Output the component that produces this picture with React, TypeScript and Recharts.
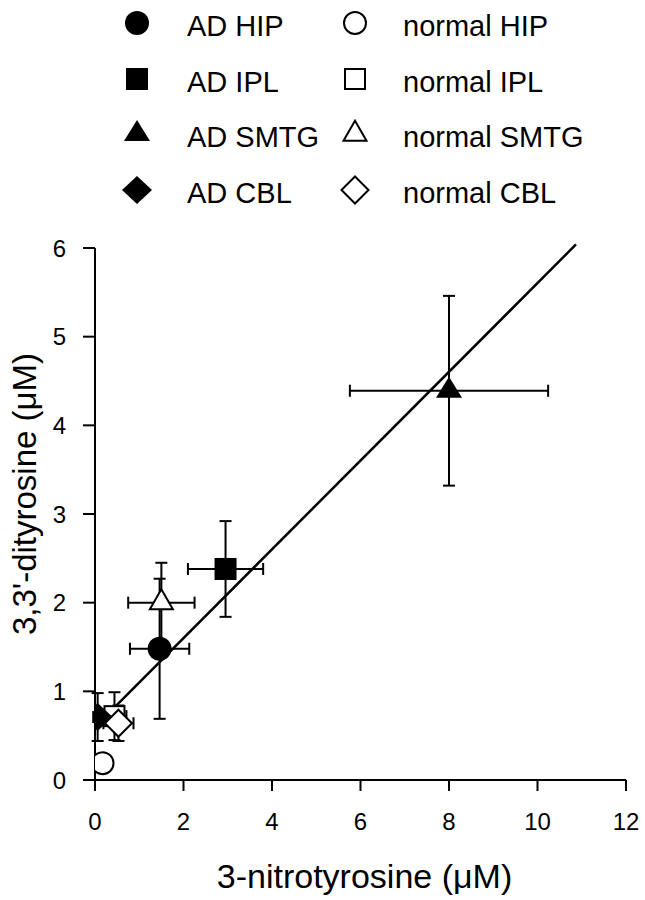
import React from "react";
import { ScatterChart, Scatter, XAxis, YAxis, ErrorBar, ReferenceLine, Label } from "recharts";

const FONT = "'Liberation Sans', Arial, Helvetica, sans-serif";

// one point per brain region (mean ± error)
const GROUPS = ["AD HIP", "AD IPL", "AD SMTG", "AD CBL", "normal HIP", "normal IPL", "normal SMTG", "normal CBL"];
const MARKERS = ["circle", "square", "triangle", "diamond", "circle", "square", "triangle", "diamond"];
const NITRO = [1.46, 2.95, 8.0, 0.06, 0.17, 0.44, 1.5, 0.53];
const NITRO_ERR = [0.67, 0.85, 2.24, 0.1, 0, 0.27, 0.75, 0.34];
const DITYR = [1.48, 2.38, 4.39, 0.71, 0.19, 0.72, 2.0, 0.64];
const DITYR_ERR = [0.79, 0.54, 1.07, 0.27, 0, 0.27, 0.45, 0.2];

// draw order, so the open symbols sit on top
const DRAW_ORDER = [4, 5, 0, 1, 2, 3, 6, 7];

// regression line end points
const FIT_X = [0.44, 10.87];
const FIT_Y = [0.82, 6.04];

const X_TICKS = [0, 2, 4, 6, 8, 10, 12];
const Y_TICKS = [0, 1, 2, 3, 4, 5, 6];

function Marker({ kind, filled, cx, cy }: { kind: string; filled: boolean; cx: number; cy: number }) {
  const fill = filled ? "#000" : "#fff";
  const sw = filled ? 0 : 2;
  if (kind === "circle") return <circle cx={cx} cy={cy} r={filled ? 12 : 11} fill={fill} stroke="#000" strokeWidth={sw} />;
  if (kind === "square") {
    const s = filled ? 22 : 20;
    return <rect x={cx - s / 2} y={cy - s / 2} width={s} height={s} fill={fill} stroke="#000" strokeWidth={sw} />;
  }
  if (kind === "triangle") {
    const w = filled ? 26 : 23;
    const h = filled ? 21 : 20;
    const pts = `${cx},${cy - (2 * h) / 3} ${cx + w / 2},${cy + h / 3} ${cx - w / 2},${cy + h / 3}`;
    return <polygon points={pts} fill={fill} stroke="#000" strokeWidth={sw} strokeLinejoin="miter" />;
  }
  const w = filled ? 15 : 13.5;
  const h = filled ? 14 : 13.5;
  const pts = `${cx},${cy - h} ${cx + w},${cy} ${cx},${cy + h} ${cx - w},${cy}`;
  return <polygon points={pts} fill={fill} stroke="#000" strokeWidth={sw} />;
}

function LegendOverlay() {
  const rowsY = [23, 79, 134, 190];
  return (
    <svg width={645} height={215} style={{ position: "absolute", left: 0, top: 0, pointerEvents: "none" }}>
      {GROUPS.map((name, i) => {
        const col = i < 4 ? 0 : 1;
        const row = i % 4;
        const cy = rowsY[row];
        return (
          <g key={name}>
            <Marker kind={MARKERS[i]} filled={col === 0} cx={col === 0 ? 137 : 355} cy={cy} />
            <text x={col === 0 ? 187 : 403} y={cy + 13} fontFamily={FONT} fontSize={29} fill="#000">
              {name}
            </text>
          </g>
        );
      })}
    </svg>
  );
}

const XTick = (props: any) => {
  const { x, y, payload } = props;
  return (
    <text x={x} y={y + 17} textAnchor="middle" fontFamily={FONT} fontSize={24} fill="#000">
      {payload.value}
    </text>
  );
};

const YTick = (props: any) => {
  const { x, y, payload } = props;
  return (
    <text x={x} y={y + 8.5} textAnchor="end" fontFamily={FONT} fontSize={24} fill="#000">
      {payload.value}
    </text>
  );
};

const XTitle = (props: any) => {
  const vb = props.viewBox || { x: 95, y: 780, width: 531 };
  return (
    <text x={vb.x + vb.width / 2 + 4} y={888} textAnchor="middle" fontFamily={FONT} fontSize={34} fill="#000">
      3-nitrotyrosine (μM)
    </text>
  );
};

const YTitle = () => {
  const cx = 24;
  const cy = 494;
  return (
    <text
      x={cx}
      y={cy}
      transform={`rotate(-90, ${cx}, ${cy})`}
      textAnchor="middle"
      dominantBaseline="central"
      fontFamily={FONT}
      fontSize={33}
      fill="#000"
    >
      3,3'-dityrosine (μM)
    </text>
  );
};

export default function App() {
  const axisStroke = { stroke: "#000", strokeWidth: 2 };
  return (
    <div style={{ position: "absolute", left: 0, top: 0, width: 645, height: 900, background: "#fff" }}>
      <ScatterChart width={645} height={900} margin={{ top: 248, right: 19, bottom: 60, left: 35 }}>
        <XAxis
          type="number"
          dataKey="x"
          domain={[0, 12]}
          ticks={X_TICKS}
          interval={0}
          height={60}
          tickSize={11}
          tickMargin={22}
          axisLine={axisStroke}
          tickLine={axisStroke}
          tick={XTick}
          allowDataOverflow
        >
          <Label content={XTitle} />
        </XAxis>
        <YAxis
          type="number"
          dataKey="y"
          domain={[0, 6]}
          ticks={Y_TICKS}
          interval={0}
          width={60}
          tickSize={12}
          tickMargin={17}
          axisLine={axisStroke}
          tickLine={axisStroke}
          tick={YTick}
          allowDataOverflow
        >
          <Label content={YTitle} />
        </YAxis>
        <ReferenceLine
          segment={[
            { x: FIT_X[0], y: FIT_Y[0] },
            { x: FIT_X[1], y: FIT_Y[1] },
          ]}
          stroke="#000"
          strokeWidth={2.5}
          ifOverflow="visible"
        />
        {DRAW_ORDER.map((i) => (
          <Scatter
            key={GROUPS[i]}
            name={GROUPS[i]}
            data={[{ x: NITRO[i], y: DITYR[i], ex: NITRO_ERR[i], ey: DITYR_ERR[i] }]}
            isAnimationActive={false}
            shape={(p: any) => <Marker kind={MARKERS[i]} filled={i < 4} cx={p.cx} cy={p.cy} />}
          >
            <ErrorBar dataKey="ey" direction="y" width={6} stroke="#000" strokeWidth={2} />
            <ErrorBar dataKey="ex" direction="x" width={6} stroke="#000" strokeWidth={2} />
          </Scatter>
        ))}
      </ScatterChart>
      <LegendOverlay />
    </div>
  );
}
